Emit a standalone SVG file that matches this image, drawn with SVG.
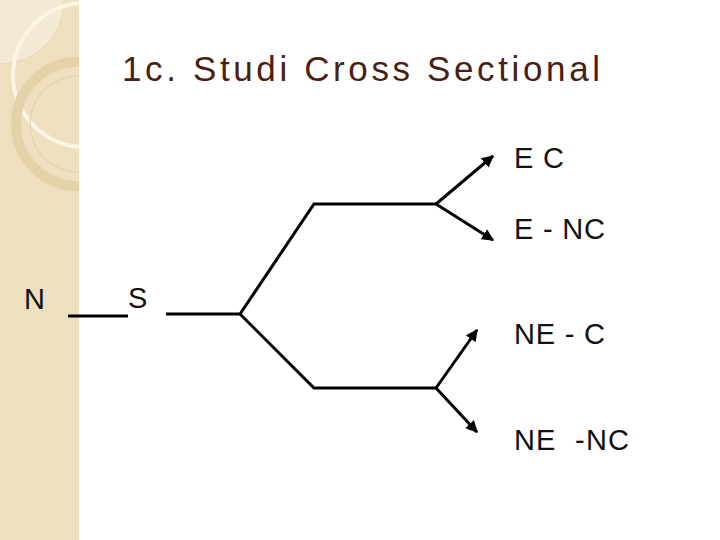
<svg xmlns="http://www.w3.org/2000/svg" width="720" height="540" viewBox="0 0 720 540">
<style>
.t{font-family:"Liberation Sans",Arial,sans-serif;fill:#111;font-size:29px}
.c{stroke:#000;stroke-width:3;fill:none}
</style>
<defs>
<marker id="a" viewBox="0 0 10 10" refX="9" refY="5" markerWidth="4" markerHeight="4" orient="auto"><path d="M0,0L10,5L0,10z" fill="#000"/></marker>
<clipPath id="cp"><rect width="79" height="540"/></clipPath>
</defs>
<rect width="720" height="540" fill="#fff"/>
<rect width="79" height="540" fill="#EEE0BE"/>
<g clip-path="url(#cp)" fill="none">
<circle cx="0" cy="0" r="64" fill="#F4EAD3" stroke="#E8D9B5"/>
<circle cx="85" cy="75" r="72" stroke="#FBF5E6" stroke-width="4"/>
<circle cx="78" cy="124" r="62" stroke="#E4D2A8" stroke-width="10"/>
<circle cx="78" cy="124" r="48" stroke="#E0CDA2"/>
</g>
<text x="122" y="81" style="font-family:'Liberation Sans',Arial,sans-serif;font-size:35px;fill:#4A1E12" textLength="478" lengthAdjust="spacing">1c. Studi Cross Sectional</text>
<g id="connectors">
<path class="c" d="M68,316H128"/>
<path class="c" d="M166,314H240L314,204H436"/>
<path class="c" d="M240,314L314,388H436"/>
<path class="c" marker-end="url(#a)" d="M436,204L493,156"/>
<path class="c" marker-end="url(#a)" d="M436,204L493,240"/>
<path class="c" marker-end="url(#a)" d="M436,388L477,330"/>
<path class="c" marker-end="url(#a)" d="M436,388L477,432"/>
</g>
<g id="nN"><text class="t" x="24" y="309">N</text></g>
<g id="nS"><text class="t" x="128" y="308">S</text></g>
<g id="nEC"><text class="t" x="514" y="168" textLength="50" lengthAdjust="spacing">E C</text></g>
<g id="nENC"><text class="t" x="514" y="239" textLength="91" lengthAdjust="spacing">E - NC</text></g>
<g id="nNEC"><text class="t" x="514" y="344" textLength="91" lengthAdjust="spacing">NE - C</text></g>
<g id="nNENC"><text class="t" x="514" y="450" textLength="115" lengthAdjust="spacing" xml:space="preserve">NE  -NC</text></g>
</svg>
